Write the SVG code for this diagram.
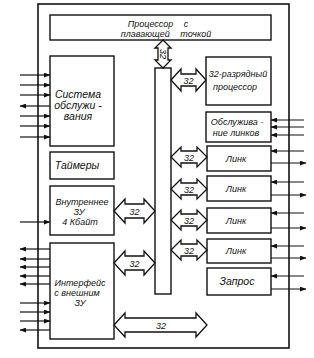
<svg xmlns="http://www.w3.org/2000/svg" width="314" height="358" viewBox="0 0 314 358">
<defs>
<marker id="ah" viewBox="0 0 8 6" refX="7.5" refY="3" markerWidth="7" markerHeight="5" markerUnits="userSpaceOnUse" orient="auto">
<path d="M0,0 L8,3 L0,6 Z" fill="#111"/>
</marker>
<style>
rect.b{fill:#fff;stroke:#111;stroke-width:1.4}
.frame{fill:#fff;stroke:#111;stroke-width:1.6}
.dbl{fill:#fff;stroke:#111;stroke-width:1.3;stroke-linejoin:miter}
.sig{stroke:#111;stroke-width:1.2;marker-end:url(#ah)}
text{font-family:"Liberation Sans","DejaVu Sans",sans-serif;font-style:italic;font-size:9px;fill:#111;text-anchor:middle}
.big{font-size:10.5px}
</style>
</defs>
<rect width="314" height="358" fill="#fff"/>
<rect class="frame" x="38" y="4" width="251" height="344"/>

<g id="fpu"><rect class="b" x="50" y="15" width="221" height="25"/>
<text x="158" y="27" word-spacing="8">Процессор с</text>
<text x="166" y="37" word-spacing="8">плавающей точкой</text></g>

<g id="bus"><rect class="b" x="155" y="68" width="16" height="226"/></g>

<g id="sys"><rect class="b" x="50" y="56" width="64" height="90"/>
<text x="78" y="98" class="big">Система</text>
<text x="78" y="109" class="big">обслужи -</text>
<text x="78" y="120" class="big">вания</text></g>

<g id="timers"><rect class="b" x="50" y="152" width="64" height="27"/>
<text x="77" y="169" class="big">Таймеры</text></g>

<g id="mem"><rect class="b" x="50" y="186" width="64" height="49"/>
<text x="82" y="205">Внутреннее</text>
<text x="79" y="215">ЗУ</text>
<text x="80" y="225">4 Кбайт</text></g>

<g id="iface"><rect class="b" x="50" y="243" width="64" height="96"/>
<text x="80" y="286">Интерфейс</text>
<text x="77" y="296">с внешним</text>
<text x="80" y="306">ЗУ</text></g>

<g id="cpu"><rect class="b" x="206" y="57" width="65" height="48"/>
<text x="238" y="77">32-разрядный</text>
<text x="235" y="90">процессор</text></g>

<g id="linksvc"><rect class="b" x="206" y="112" width="65" height="30"/>
<text x="237" y="125">Обслужива -</text>
<text x="236" y="136">ние линков</text></g>

<g id="link1"><rect class="b" x="207" y="146" width="64" height="25"/>
<text x="236" y="162">Линк</text></g>
<g id="link2"><rect class="b" x="207" y="176" width="64" height="25"/>
<text x="236" y="192">Линк</text></g>
<g id="link3"><rect class="b" x="207" y="208" width="64" height="25"/>
<text x="236" y="224">Линк</text></g>
<g id="link4"><rect class="b" x="207" y="239" width="64" height="24"/>
<text x="236" y="254">Линк</text></g>
<g id="query"><rect class="b" x="207" y="268" width="64" height="27"/>
<text x="237" y="285" class="big">Запрос</text></g>

<g id="connectors">
<!-- vertical FPU-bus -->
<polygon class="dbl" points="163,40 171,48 168,48 168,60 171,60 163,68 155,60 158,60 158,48 155,48"/>
<text x="163" y="54" transform="rotate(90 163 54)" dy="3">32</text>
<!-- bus - cpu -->
<polygon class="dbl" points="171,80 181,69 181,74 196,74 196,69 206,80 196,91 196,86 181,86 181,91"/>
<text x="188.5" y="83.5">32</text>
<!-- bus - links -->
<polygon class="dbl" points="171,157 181,147 181,151 197,151 197,147 207,157 197,167 197,163 181,163 181,167"/>
<text x="189" y="160.5">32</text>
<polygon class="dbl" points="171,189 181,179 181,183 197,183 197,179 207,189 197,199 197,195 181,195 181,199"/>
<text x="189" y="192.5">32</text>
<polygon class="dbl" points="171,220 181,210 181,214 197,214 197,210 207,220 197,230 197,226 181,226 181,230"/>
<text x="189" y="223.5">32</text>
<polygon class="dbl" points="171,250 181,240 181,244 197,244 197,240 207,250 197,260 197,256 181,256 181,260"/>
<text x="189" y="253.5">32</text>
<!-- mem - bus -->
<polygon class="dbl" points="114,211 125,199 125,204 144,204 144,199 155,211 144,223 144,218 125,218 125,223"/>
<text x="134.5" y="214.5">32</text>
<!-- iface - bus -->
<polygon class="dbl" points="114,263 125,251 125,256 144,256 144,251 155,263 144,275 144,270 125,270 125,275"/>
<text x="134.5" y="266.5">32</text>
<!-- bottom -->
<polygon class="dbl" points="114,325 125,313 125,318 196,318 196,313 207,325 196,337 196,332 125,332 125,337"/>
<text x="161" y="328.5">32</text>

<!-- left signals: system -->
<line class="sig" x1="20" y1="75" x2="50" y2="75"/>
<line class="sig" x1="20" y1="85" x2="50" y2="85"/>
<line class="sig" x1="20" y1="95" x2="50" y2="95"/>
<line class="sig" x1="50" y1="106" x2="20" y2="106"/>
<line class="sig" x1="20" y1="116" x2="50" y2="116"/>
<line class="sig" x1="20" y1="126" x2="50" y2="126"/>
<line class="sig" x1="20" y1="137" x2="50" y2="137"/>
<!-- memory -->
<line class="sig" x1="20" y1="222" x2="50" y2="222"/>
<!-- interface -->
<line class="sig" x1="50" y1="249" x2="20" y2="249"/>
<line class="sig" x1="50" y1="259" x2="20" y2="259"/>
<line class="sig" x1="50" y1="267" x2="20" y2="267"/>
<line class="sig" x1="50" y1="276" x2="20" y2="276"/>
<line class="sig" x1="50" y1="284" x2="20" y2="284"/>
<line class="sig" x1="20" y1="303" x2="50" y2="303"/>
<line class="sig" x1="20" y1="312" x2="50" y2="312"/>
<line class="sig" x1="20" y1="321" x2="50" y2="321"/>
<line class="sig" x1="50" y1="330" x2="20" y2="330"/>

<!-- right signals -->
<line class="sig" x1="304" y1="120" x2="271" y2="120"/>
<line class="sig" x1="304" y1="127" x2="271" y2="127"/>
<line class="sig" x1="304" y1="135" x2="271" y2="135"/>
<line class="sig" x1="304" y1="151" x2="271" y2="151"/>
<line class="sig" x1="271" y1="163" x2="306" y2="163"/>
<line class="sig" x1="304" y1="182" x2="271" y2="182"/>
<line class="sig" x1="271" y1="195" x2="306" y2="195"/>
<line class="sig" x1="304" y1="213" x2="271" y2="213"/>
<line class="sig" x1="271" y1="228" x2="306" y2="228"/>
<line class="sig" x1="304" y1="246" x2="271" y2="246"/>
<line class="sig" x1="271" y1="258" x2="306" y2="258"/>
<line class="sig" x1="304" y1="276" x2="271" y2="276"/>
<line class="sig" x1="271" y1="289" x2="306" y2="289"/>
</g>
</svg>
